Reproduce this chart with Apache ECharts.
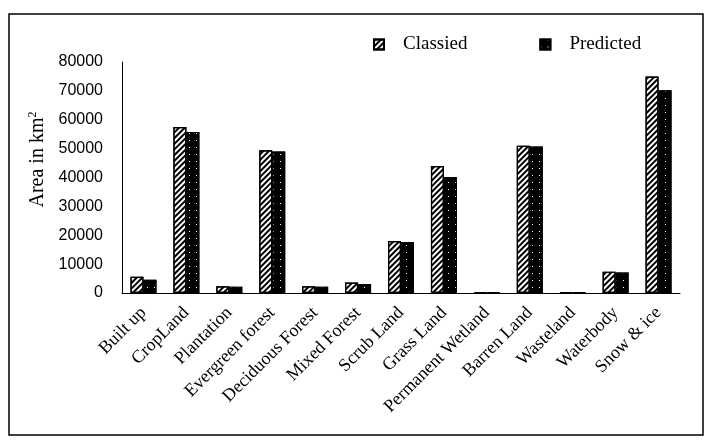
<!DOCTYPE html>
<html>
<head>
<meta charset="utf-8">
<script src="https://cdn.jsdelivr.net/npm/echarts@6/dist/echarts.min.js"></script>
<style>
  html, body { margin: 0; padding: 0; background: #fff; }
  #main { width: 709px; height: 444px; }
</style>
</head>
<body>
<div id="main"></div>
<script>
// land cover classes
var categories = ['Built up', 'CropLand', 'Plantation', 'Evergreen forest', 'Deciduous Forest',
  'Mixed Forest', 'Scrub Land', 'Grass Land', 'Permanent Wetland', 'Barren Land',
  'Wasteland', 'Waterbody', 'Snow & ice'];
// area in km2
var classied = [5600, 57500, 2300, 49400, 2300, 3600, 18000, 44000, 300, 51000, 200, 7400, 75000];
var predicted = [4600, 55800, 2200, 49000, 2200, 3100, 17700, 40200, 200, 50700, 200, 7100, 70200];
var yTicks = [0, 10000, 20000, 30000, 40000, 50000, 60000, 70000, 80000];

var chart = echarts.init(document.getElementById('main'));

var hatch = {
  symbol: 'rect',
  symbolSize: 1,
  color: '#000',
  dashArrayX: [1, 0],
  dashArrayY: [2, 2],
  rotation: -Math.PI / 4
};
var dots = {
  symbol: 'rect',
  symbolSize: 1,
  color: '#fff',
  dashArrayX: [1, 6],
  dashArrayY: [1, 6],
  rotation: 0
};

var option = {
  backgroundColor: '#fff',
  animation: false,
  graphic: [{
    type: 'rect',
    shape: { x: 9, y: 14, width: 694, height: 421 },
    style: { fill: 'none', stroke: '#000', lineWidth: 1.5 },
    silent: true
  }],
  legend: {
    top: 30,
    left: 368,
    icon: 'rect',
    itemWidth: 10,
    itemHeight: 10,
    itemGap: 72,
    textStyle: {
      fontFamily: 'Liberation Serif',
      fontSize: 19,
      color: '#000',
      padding: [0, 0, 0, 14]
    },
    data: ['Classied', 'Predicted']
  },
  grid: { left: 122, top: 62, right: 29, bottom: 151 },
  xAxis: {
    type: 'category',
    data: categories,
    axisLine: { lineStyle: { color: '#000', width: 1 } },
    axisTick: { show: false },
    axisLabel: {
      rotate: 45,
      interval: 0,
      fontFamily: 'Liberation Serif',
      fontSize: 18,
      color: '#000',
      margin: 17,
      padding: [0, 0, 0, 0]
    }
  },
  yAxis: {
    type: 'value',
    min: yTicks[0],
    max: yTicks[yTicks.length - 1],
    interval: 10000,
    name: '{a|Area in km}{s|2}',
    nameLocation: 'middle',
    nameGap: 74,
    nameTextStyle: {
      padding: [0, 0, 0, 36],
      rich: {
        a: { fontFamily: 'Liberation Serif', fontSize: 20, color: '#000' },
        s: { fontFamily: 'Liberation Serif', fontSize: 12, color: '#000', verticalAlign: 'top', padding: [0, 0, 9, 0] }
      }
    },
    axisLine: { show: true, lineStyle: { color: '#000', width: 1 } },
    axisTick: { show: false },
    splitLine: { show: false },
    axisLabel: {
      fontFamily: 'Liberation Sans',
      fontSize: 16,
      color: '#000',
      margin: 19,
      formatter: function (v) { return String(v); }
    }
  },
  series: [{
    name: 'Classied',
    type: 'bar',
    data: classied,
    barWidth: 13,
    barGap: '0%',
    itemStyle: { color: '#fff', borderColor: '#000', borderWidth: 1.2, decal: hatch }
  }, {
    name: 'Predicted',
    type: 'bar',
    data: predicted,
    barWidth: 13,
    barGap: '0%',
    itemStyle: { color: '#000', borderColor: '#000', borderWidth: 1.2, decal: dots }
  }]
};

chart.setOption(option);
</script>
</body>
</html>
